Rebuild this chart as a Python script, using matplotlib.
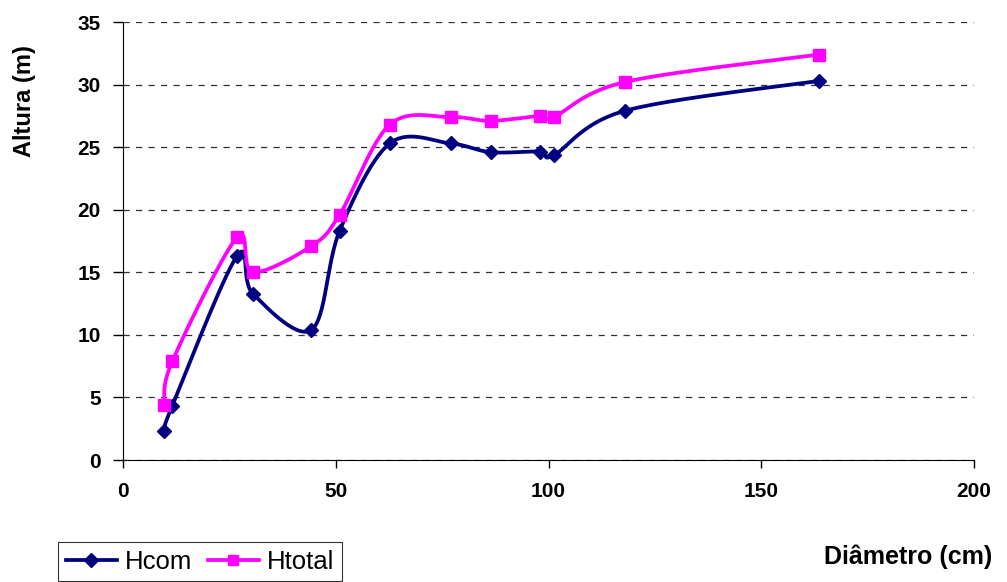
import numpy as np
import matplotlib
matplotlib.use("Agg")
import matplotlib.pyplot as plt
from matplotlib.lines import Line2D

plt.rcParams['font.family'] = ['Liberation Sans', 'DejaVu Sans']

# diameter (cm) and heights (m)
diametro = [9.7, 11.6, 26.8, 30.5, 44.3, 50.9, 62.7, 77.0, 86.4, 98.1, 101.2, 117.9, 163.6]
h_com = [2.35, 4.35, 16.3, 13.3, 10.4, 18.3, 25.3, 25.3, 24.6, 24.65, 24.35, 27.9, 30.3]
h_total = [4.4, 7.9, 17.8, 15.0, 17.1, 19.6, 26.8, 27.4, 27.1, 27.5, 27.4, 30.2, 32.4]

x_ticks = [0, 50, 100, 150, 200]
y_ticks = [0, 5, 10, 15, 20, 25, 30, 35]


def smooth(xs, ys, n=30):
    # excel-like smoothed line (catmull-rom bezier)
    p = np.column_stack([xs, ys]).astype(float)
    p = np.vstack([p[0], p, p[-1]])
    out = []
    t = np.linspace(0, 1, n)[:, None]
    for i in range(1, len(p) - 2):
        p0, p3 = p[i], p[i + 1]
        c1 = p0 + (p[i + 1] - p[i - 1]) / 6
        c2 = p3 - (p[i + 2] - p[i]) / 6
        seg = ((1 - t) ** 3) * p0 + 3 * ((1 - t) ** 2) * t * c1 + 3 * (1 - t) * t ** 2 * c2 + t ** 3 * p3
        out.append(seg)
    out = np.vstack(out)
    return out[:, 0], out[:, 1]


fig = plt.figure(figsize=(10.07, 5.82), dpi=100)
ax = fig.add_axes([123 / 1007, 122 / 582, 851 / 1007, 438 / 582])

navy = '#000080'
magenta = '#FF00FF'

sx, sy = smooth(diametro, h_com)
ax.plot(sx, sy, color=navy, linewidth=2.7, zorder=3)
ax.plot(diametro, h_com, linestyle='none', marker='D', markersize=7.5, color=navy, zorder=4)

sx, sy = smooth(diametro, h_total)
ax.plot(sx, sy, color=magenta, linewidth=2.7, zorder=3)
ax.plot(diametro, h_total, linestyle='none', marker='s', markersize=8, color=magenta, zorder=4)

ax.set_xlim(0, 200)
ax.set_ylim(0, 35)
ax.set_xticks(x_ticks)
ax.set_yticks(y_ticks)
ax.tick_params(axis='x', direction='out', length=6, width=1, labelsize=15, pad=10)
ax.tick_params(axis='y', direction='out', length=7, width=1, labelsize=15, pad=9)
for lbl in ax.get_xticklabels() + ax.get_yticklabels():
    lbl.set_fontweight('bold')

ax.yaxis.grid(True, linestyle=(0, (5, 5)), color='#303030', linewidth=0.9)
ax.spines['top'].set_visible(False)
ax.spines['right'].set_visible(False)
ax.spines['left'].set_color('black')
ax.spines['bottom'].set_color('black')

fig.text(24 / 1007, 1 - 101 / 582, 'Altura (m)', rotation=90, ha='center', va='center',
         fontsize=17, fontweight='bold')
fig.text(908 / 1007, 1 - 557 / 582, 'Diâmetro (cm)', ha='center', va='center',
         fontsize=18, fontweight='bold')

handles = [
    Line2D([], [], color=navy, linewidth=2.7, marker='D', markersize=7),
    Line2D([], [], color=magenta, linewidth=2.7, marker='s', markersize=7.5),
]
leg = fig.legend(handles, ['Hcom', 'Htotal'], loc='upper left',
                 bbox_to_anchor=(58 / 1007, 1 - 542 / 582),
                 ncol=2, frameon=True, fancybox=False, edgecolor='black', fontsize=18.5,
                 handlelength=2.0, handletextpad=0.3, columnspacing=0.6, borderpad=0.3,
                 borderaxespad=0.0)
leg.get_frame().set_linewidth(0.8)

fig.savefig('out.png', dpi=100)
